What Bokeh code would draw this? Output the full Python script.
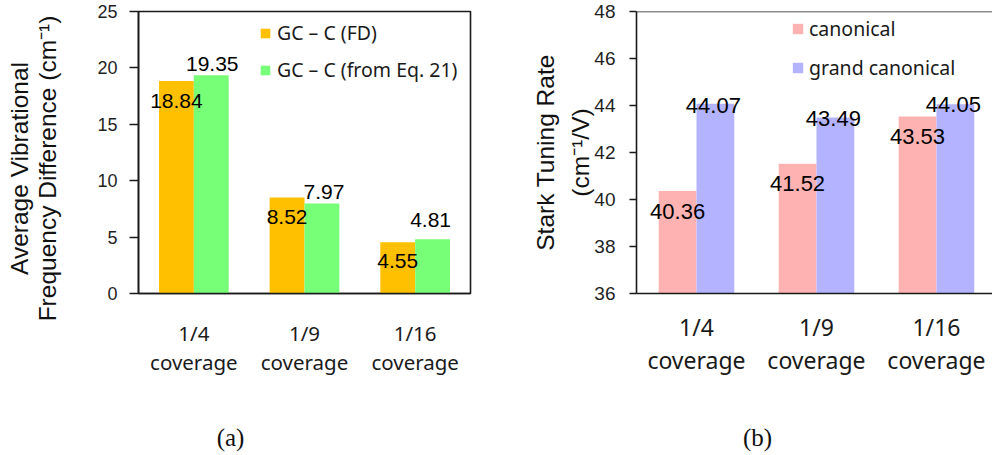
import numpy as np
from bokeh.plotting import figure
from bokeh.models import (Range1d, FixedTicker, ColumnDataSource, Legend, LegendItem,
                          Span)
from bokeh.layouts import row, column
from bokeh.embed import file_html
from bokeh.resources import INLINE
from bokeh.core.properties import value

# ---------------- data ----------------
categories = ["1/4\ncoverage", "1/9\ncoverage", "1/16\ncoverage"]
fd_values = [18.84, 8.52, 4.55]            # GC – C (FD)
eq21_values = [19.35, 7.97, 4.81]          # GC – C (from Eq. 21)
canonical_values = [40.36, 41.52, 43.53]
grand_canonical_values = [44.07, 43.49, 44.05]
left_yticks = [0, 5, 10, 15, 20, 25]
right_yticks = [36, 38, 40, 42, 44, 46, 48]
series_a = ["GC – C (FD)", "GC – C (from Eq. 21)"]
series_b = ["canonical", "grand canonical"]
left_title = ["Average Vibrational", "Frequency Difference (cm⁻¹)"]
right_title = "Stark Tuning Rate\n(cm⁻¹/V)"
captions = ["(a)", "(b)"]

# ---------------- styles / layout ----------------
C_ORANGE = "#FFC000"
C_GREEN = "#78FF78"
C_PINK = "#FFB2B2"
C_BLUE = "#B3B3FF"
AX = "#1a1a1a"
NUM_FONT = "Liberation Sans"
CAT_FONT = "Noto Sans"
BW = 0.315
TOP_H = 400
CAP_H = 55
FULL_H = TOP_H + CAP_H
TITLE_W = 70
TITLE_X = [19, 47]          # line anchors of the left title strip, px
TITLE_Y = FULL_H - 168      # px from the bottom of the strip
CAPTION_X = [230 - TITLE_W, 757 - TITLE_W]   # caption centres in the caption strip
CAPTION_Y = 18              # px from the bottom of the caption strip

centers = np.arange(len(categories)) + 0.5
x_left = centers - BW / 2
x_right = centers + BW / 2

# label offsets (pixels, positive = down)
fd_dy = [20, 20, 19]
eq_dy = [-11, -12, -19]
can_dy = [20, 20, 20]
gc_dy = [2, 1, 0]


def style(p, yticks, tick_out, standoff, tick_size, cat_size, cat_lh, cat_standoff):
    p.xgrid.visible = False
    p.ygrid.visible = False
    p.yaxis.ticker = FixedTicker(ticks=yticks)
    p.yaxis.minor_tick_line_color = None
    p.yaxis.major_tick_out = tick_out
    p.yaxis.major_tick_in = 0
    p.yaxis.major_tick_line_color = AX
    p.yaxis.major_tick_line_width = 1.3
    p.yaxis.major_label_standoff = standoff
    p.yaxis.major_label_text_font = NUM_FONT
    p.yaxis.major_label_text_font_size = tick_size
    p.yaxis.major_label_text_color = "#1f1f1f"
    p.yaxis.axis_label_text_font = NUM_FONT
    p.yaxis.axis_label_text_font_style = "normal"
    p.yaxis.axis_label_text_color = "#111111"
    for ax in (p.xaxis, p.yaxis):
        ax.axis_line_color = AX
        ax.axis_line_width = 1.6
    p.xaxis.ticker = FixedTicker(ticks=list(centers))
    p.xaxis.major_label_overrides = {float(c): cat for c, cat in zip(centers, categories)}
    p.xaxis.major_tick_line_color = None
    p.xaxis.minor_tick_line_color = None
    p.xaxis.major_tick_out = 0
    p.xaxis.major_label_standoff = cat_standoff
    p.xaxis.major_label_text_font = CAT_FONT
    p.xaxis.major_label_text_font_size = cat_size
    p.xaxis.major_label_text_line_height = cat_lh
    p.xaxis.major_label_text_color = "#1a1a1a"


def labels(p, xs, vals, dy, dx, size):
    src = ColumnDataSource(dict(x=list(xs), y=vals, t=[f"{v:.2f}" for v in vals],
                                dy=dy, dx=dx))
    p.text(x="x", y="y", text="t", source=src, x_offset="dx", y_offset="dy",
           text_font=value(NUM_FONT), text_font_size=size, text_align="center",
           text_baseline="middle", text_color="black")


def strip(width, height):
    s = figure(width=width, height=height, x_range=Range1d(0, width),
               y_range=Range1d(0, height), x_axis_type=None, y_axis_type=None,
               output_backend="svg", toolbar_location=None, min_border=0)
    s.outline_line_color = None
    s.xgrid.visible = False
    s.ygrid.visible = False
    return s


# ---------------- left title strip (full height) ----------------
pt = strip(TITLE_W, FULL_H)
pt.text(x=TITLE_X, y=[TITLE_Y] * len(left_title), text=left_title, angle=np.pi / 2,
        text_font=value(NUM_FONT), text_font_size="24.5px", text_align="center",
        text_baseline="middle", text_color="#111111")

# ---------------- panel (a) ----------------
p1 = figure(width=508 - TITLE_W, height=TOP_H, x_range=Range1d(0, len(categories)),
            y_range=Range1d(left_yticks[0], left_yticks[-1]),
            output_backend="svg", toolbar_location=None,
            min_border_left=138 - TITLE_W, min_border_right=38, min_border_top=9,
            min_border_bottom=TOP_H - 302)
style(p1, left_yticks, 9, 12, "18px", "20.5px", 1.07, 25)
p1.outline_line_color = AX
p1.outline_line_width = 1.6

ra = p1.vbar(x=x_left, top=fd_values, bottom=left_yticks[0], width=BW,
             fill_color=C_ORANGE, line_color=None)
rb = p1.vbar(x=x_right, top=eq21_values, bottom=left_yticks[0], width=BW,
             fill_color=C_GREEN, line_color=None)
labels(p1, x_left, fd_values, fd_dy, [0, 0, 0], "21px")
labels(p1, x_right, eq21_values, eq_dy, [1, 2, -2], "21px")

leg1 = Legend(items=[LegendItem(label=series_a[0], renderers=[ra]),
                     LegendItem(label=series_a[1], renderers=[rb])],
              location=(121, 210), orientation="vertical",
              glyph_width=12, glyph_height=12, label_standoff=6,
              label_height=24, spacing=10, padding=0, margin=0,
              label_text_font=CAT_FONT, label_text_font_size="19.5px",
              label_text_line_height=1.0, label_text_color="#1a1a1a",
              background_fill_alpha=0, border_line_color=None)
p1.add_layout(leg1)

# ---------------- panel (b) ----------------
p2 = figure(width=484, height=TOP_H, x_range=Range1d(0, 2.967),
            y_range=Range1d(right_yticks[0], right_yticks[-1]),
            output_backend="svg", toolbar_location=None,
            min_border_left=128, min_border_right=0, min_border_top=11,
            min_border_bottom=TOP_H - 293)
style(p2, right_yticks, 7, 14, "19px", "23px", 1.06, 17)
p2.outline_line_color = None
p2.add_layout(Span(location=right_yticks[-1], dimension="width", line_color=AX,
                   line_width=1.6))
p2.yaxis.axis_label = right_title
p2.yaxis.axis_label_text_font_size = "24.5px"
p2.yaxis.axis_label_text_line_height = 1.3
p2.yaxis.axis_label_standoff = -3

rc = p2.vbar(x=x_left, top=canonical_values, bottom=right_yticks[0], width=BW,
             fill_color=C_PINK, line_color=None)
rd = p2.vbar(x=x_right, top=grand_canonical_values, bottom=right_yticks[0], width=BW,
             fill_color=C_BLUE, line_color=None)
labels(p2, x_left, canonical_values, can_dy, [0, 0, 0], "22px")
labels(p2, x_right, grand_canonical_values, gc_dy, [-2, -2, -2], "22px")

leg2 = Legend(items=[LegendItem(label=series_b[0], renderers=[rc]),
                     LegendItem(label=series_b[1], renderers=[rd])],
              location=(155, 212), orientation="vertical",
              glyph_width=13, glyph_height=13, label_standoff=5,
              label_height=24, spacing=12, padding=0, margin=0,
              label_text_font=CAT_FONT, label_text_font_size="19.5px",
              label_text_line_height=1.0, label_text_color="#1a1a1a",
              background_fill_alpha=0, border_line_color=None)
p2.add_layout(leg2)

# ---------------- captions strip ----------------
pc = strip(992 - TITLE_W, CAP_H)
pc.text(x=CAPTION_X, y=[CAPTION_Y] * len(captions), text=captions,
        text_font=value("Liberation Serif"), text_font_size="25px",
        text_align="center", text_baseline="middle", text_color="#111111")

layout = row(pt, column(row(p1, p2), pc))
open("out.html", "w").write(file_html(layout, INLINE))
